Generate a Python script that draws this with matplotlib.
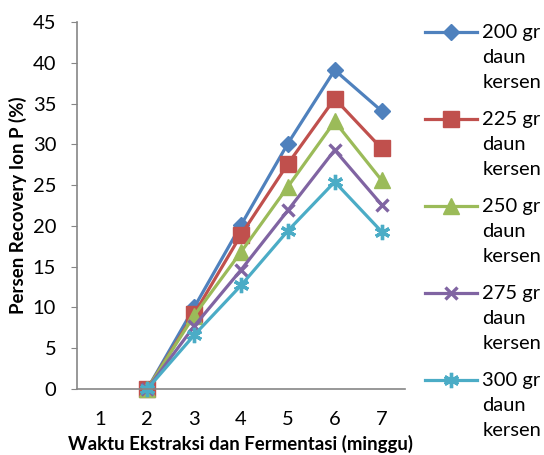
import matplotlib
matplotlib.use("Agg")
import numpy as np
import matplotlib.pyplot as plt
from matplotlib.legend_handler import HandlerLine2D

plt.rcParams['font.family'] = ['Lato', 'DejaVu Sans']

minggu = [1, 2, 3, 4, 5, 6, 7]
x_data = [2, 3, 4, 5, 6, 7]
labels = ["200 gr\ndaun\nkersen", "225 gr\ndaun\nkersen", "250 gr\ndaun\nkersen",
          "275 gr\ndaun\nkersen", "300 gr\ndaun\nkersen"]
s200 = [0, 10.0, 20.1, 30.1, 39.1, 34.1]
s225 = [0, 9.2, 18.9, 27.6, 35.6, 29.5]
s250 = [0, 9.0, 16.8, 24.8, 32.8, 25.6]
s275 = [0, 7.7, 14.6, 21.9, 29.3, 22.6]
s300 = [0, 6.6, 12.7, 19.4, 25.4, 19.3]

series = [s200, s225, s250, s275, s300]
colors = ['#4F81BD', '#C0504D', '#9BBB59', '#8064A2', '#4BACC6']
markers = ['D', 's', '^', 'x', (6, 2, 0)]
msizes = [8.5, 11, 11, 9, 11]

FS = 14.5
LS = 1.57


# legend handle sits on the first line of the label, like Excel does
class TopLineHandler(HandlerLine2D):
    def create_artists(self, legend, orig_handle, xdescent, ydescent, width, height, fontsize, trans):
        arts = super().create_artists(legend, orig_handle, xdescent, ydescent, width, height, fontsize, trans)
        shift = 0.82 * LS * fontsize
        for a in arts:
            a.set_ydata(np.asarray(a.get_ydata()) + shift)
        return arts


fig = plt.figure(figsize=(5.44, 4.55), dpi=100)
ax = fig.add_axes([77/544, 1-389/455, (405-77)/544, (389-22)/455])

for vals, c, m, ms, lab in zip(series, colors, markers, msizes, labels):
    ax.plot(x_data, vals, color=c, marker=m, markersize=ms, linewidth=2.3,
            markeredgewidth=2.4 if m in ('x', (6, 2, 0)) else 1, markeredgecolor=c,
            label=lab, clip_on=False)

ax.set_xlim(0.5, 7.5)
ax.set_ylim(0, 45)
ax.set_xticks(minggu)
ax.set_yticks(range(0, 46, 5))
ax.tick_params(axis='x', length=0, pad=16, labelsize=FS)
ax.tick_params(axis='y', length=4, color='#868686', pad=11, labelsize=FS)
for side in ('top', 'right'):
    ax.spines[side].set_visible(False)
for side in ('left', 'bottom'):
    ax.spines[side].set_color('#868686')
    ax.spines[side].set_linewidth(1.2)

ax.set_xlabel("Waktu Ekstraksi dan Fermentasi (minggu)", fontsize=13.4, fontweight='bold', labelpad=5)
ax.set_ylabel("Persen Recovery Ion P (%)", fontsize=13.4, fontweight='bold', labelpad=4)

handles, labs = ax.get_legend_handles_labels()
leg = fig.legend(handles, labs, loc='upper left', bbox_to_anchor=(425/544, 1-24/455), frameon=False,
                 fontsize=FS, handlelength=2.6, handletextpad=0.25, labelspacing=1.0,
                 borderaxespad=0, borderpad=0,
                 handler_map={h: TopLineHandler() for h in handles})
for t in leg.get_texts():
    t.set_linespacing(LS)

fig.savefig("out.png", dpi=100)
